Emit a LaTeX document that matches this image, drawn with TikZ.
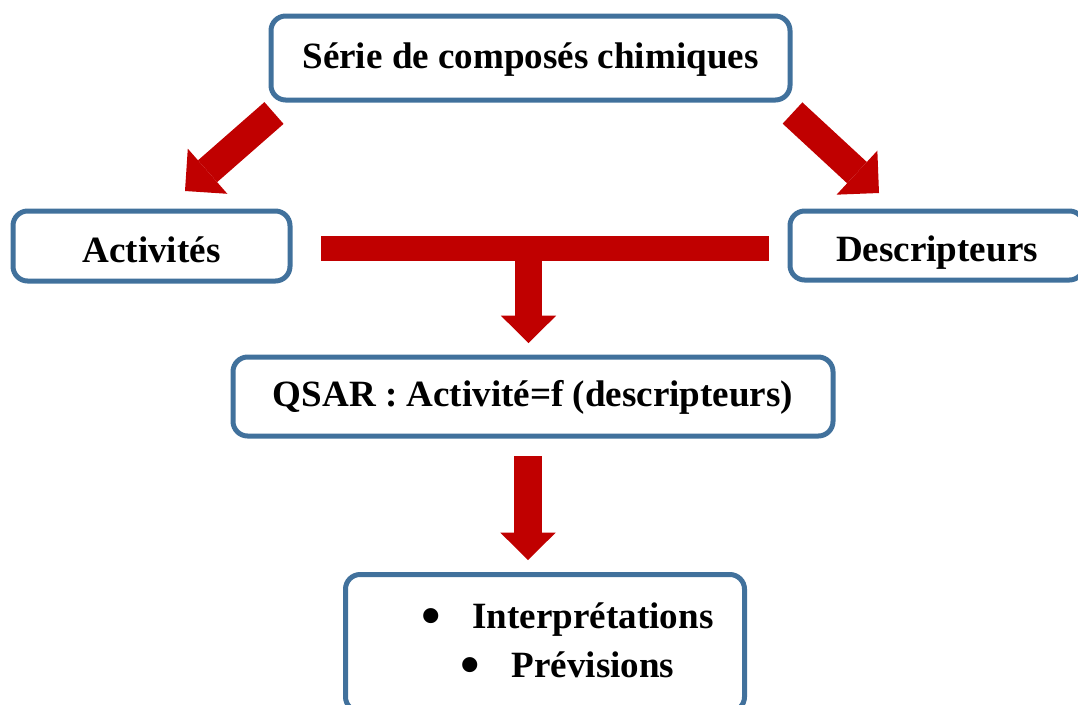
\documentclass[tikz,border=0pt]{standalone}
\usepackage{fontspec}
\setmainfont{Liberation Serif}
\usepackage{xcolor}
\usepackage{graphicx}
\usepackage{tikz}
\usetikzlibrary{arrows.meta}
\definecolor{QsarBlue}{HTML}{41719C}
\definecolor{QsarRed}{HTML}{C00000}
\newcommand{\BigDot}{\raisebox{-4pt}{\scalebox{1.5}{•}}}
\tikzset{
  every node/.style = {font=\fontsize{27.8}{36.75}\selectfont\bfseries, text=black},
  stage/.style = {
    draw=QsarBlue,
    fill=white,
    line width=3.75pt,
    rounded corners=11pt,
    align=center,
    inner sep=0pt
  },
  stage line/.style = {stage, text height=20pt, text depth=5pt},
  stage low/.style = {stage, text height=24pt, text depth=0pt},
  flow/.style = {draw=QsarRed, line width=21.75pt,
    -{Triangle[length=22.5pt,width=45pt,line width=0pt]}},
  flow down/.style = {draw=QsarRed, line width=20.5pt,
    -{Triangle[length=20.5pt,width=41.5pt,line width=0pt]}},
  merge bar/.style = {draw=QsarRed, line width=18.75pt},
}

\begin{document}
\begin{tikzpicture}[x=0.75pt,y=-0.75pt]
  \useasboundingbox (0,0) rectangle (1078,704);

  \node[stage line, minimum width=389.25pt, minimum height=63pt] (serie) at (530.5,58)
    {Série de composés chimiques};
  \node[stage low, minimum width=207.75pt, minimum height=52.5pt] (activ) at (151.5,246)
    {Activités};
  \node[stage low, minimum width=220.5pt, minimum height=51.75pt] (descr) at (937,245.5)
    {Descripteurs};
  \node[stage line, minimum width=450pt, minimum height=59.25pt] (qsar) at (533,396.5)
    {QSAR : Activité=f (descripteurs)};
  \node[stage, minimum width=299.25pt, minimum height=102.75pt] (result) at (545,643)
    {\hspace*{33.4pt}\BigDot\hspace{24pt}Interprétations\\\hspace*{33.4pt}\BigDot\hspace{24pt}Prévisions};

  % free ends of the block arrows
  \coordinate (serieL) at (274,113);
  \coordinate (serieR) at (792.5,113);
  \coordinate (activT) at (185,191);
  \coordinate (descrT) at (879,193);
  \coordinate (barL) at (321,248.5);
  \coordinate (barR) at (769,248.5);
  \coordinate (barM) at (528.5,236);
  \coordinate (qsarT) at (528.5,343);
  \coordinate (qsarB) at (528,456);
  \coordinate (resultT) at (528,560);

  \draw[flow] (serieL) -- (activT);
  \draw[flow] (serieR) -- (descrT);
  \draw[merge bar] (barL) -- (barR);
  \draw[flow down] (barM) -- (qsarT);
  \draw[flow down] (qsarB) -- (resultT);
\end{tikzpicture}
\end{document}
